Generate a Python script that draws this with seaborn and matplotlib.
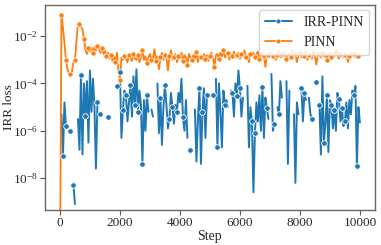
import numpy as np
import pandas as pd
import matplotlib
matplotlib.use("Agg")
import matplotlib.pyplot as plt
from matplotlib.lines import Line2D
import seaborn as sns

# training steps (logged every 50)
steps = list(range(0, 10001, 50))

# log10 of the IRR loss, nan = gap in the curve
irr_pinn_log = [
    np.nan, -5.3, -7.06, -4.8, -5.8, np.nan, np.nan, -6.0, np.nan, -8.3,
    -9.1, np.nan, -5.5, -6.8, -3.66, -7.0, -4.0, -5.36, -3.9, -6.5,
    -3.45, -5.2, -3.8, -5.0, -7.6, -4.8, np.nan, -5.3, np.nan, np.nan,
    np.nan, np.nan, -5.4, np.nan, np.nan, np.nan, np.nan, np.nan, -4.1, np.nan,
    -3.5, -6.3, -5.1, -4.3, -4.5, -5.6, -4.8, -4.05, -5.4, -3.7,
    -4.9, -3.4, -5.2, -4.3, -4.9, -7.4, -4.7, -6.0, -4.5, -5.2,
    np.nan, -5.1, -5.4, np.nan, np.nan, -4.0, -6.1, -4.6, -6.6, -5.0,
    -4.05, -4.9, -5.9, -5.5, -4.4, -5.0, -5.7, -4.9, -5.2, -4.4,
    -4.8, -3.8, -5.4, -6.0, -4.7, -6.3, np.nan, -6.8, np.nan, np.nan,
    -5.1, -7.3, -5.5, -4.2, -7.4, -5.2, -4.2, -6.3, -4.5, np.nan,
    np.nan, np.nan, -4.5, np.nan, -3.8, -6.7, -4.0, -5.2, -6.7, -4.3,
    -4.9, -4.7, -5.0, np.nan, -4.3, -4.4, -5.4, -4.0, -4.55, -3.45,
    -4.2, -5.4, -4.6, np.nan, np.nan, -4.1, -6.7, -5.0, -5.6, -8.6,
    -6.1, -4.8, -5.6, -4.5, -6.0, -4.15, -6.3, -4.6, -5.05, -5.5,
    np.nan, -3.6, -6.0, -5.7, np.nan, -5.0, -5.3, -3.9, -4.6, np.nan,
    np.nan, -3.9, -7.4, -4.3, np.nan, np.nan, -5.3, -8.2, -4.8, -5.3,
    np.nan, -4.2, -5.6, -4.4, -4.7, np.nan, -4.6, -5.3, -5.5, np.nan,
    np.nan, -3.95, np.nan, -4.9, -7.0, -3.7, -6.5, -5.7, -4.5, -6.9,
    -4.7, -4.9, -5.9, -5.1, -6.0, -4.4, -4.65, -5.6, -5.05, -5.8,
    -5.6, -4.8, -5.9, -4.7, -5.3, -4.3, -4.5, -4.1, -7.5, -5.0,
    -5.65,
]

pinn_log = [
    -12.0, -1.1, -1.65, -2.3, -3.0, -3.4, -3.6, -3.6, -3.5, -3.1,
    -3.0, -2.2, -1.45, -1.5, -1.6, -1.7, -2.1, -2.6, -2.75, -2.5,
    -2.65, -2.5, -2.7, -2.45, -2.6, -2.4, -2.55, -2.7, -2.5, -2.75,
    -2.6, -2.85, -2.7, -2.95, -2.8, -3.05, -2.85, -3.1, -2.7, -3.5,
    -3.85, -2.9, -3.0, -2.85, -2.95, -3.1, -2.8, -2.9, -3.05, -2.75,
    -2.95, -3.0, -2.8, -3.1, -2.9, -2.6, -3.0, -2.85, -3.15, -2.9,
    -2.75, -3.0, -2.95, -2.55, -3.05, -2.85, -3.4, -2.9, -2.7, -3.0,
    -2.8, -2.95, -3.45, -2.85, -2.6, -3.0, -2.9, -2.75, -3.1, -2.85,
    -2.95, -2.7, -3.05, -2.8, -2.9, -3.2, -2.75, -2.9, -3.0, -2.8,
    -2.95, -2.65, -3.1, -2.85, -2.9, -3.0, -2.75, -2.95, -2.8, -3.05,
    -2.85, -2.7, -2.9, -3.3, -2.8, -2.75, -2.95, -2.7, -2.85, -2.6,
    -2.9, -2.8, -2.7, -3.0, -2.75, -2.85, -2.65, -2.9, -2.8, -2.7,
    -2.95, -2.75, -2.85, -2.6, -2.9, -2.8, -3.1, -2.75, -2.85, -2.7,
    -2.9, -2.75, -2.65, -2.95, -2.8, -2.7, -2.85, -3.3, -2.75, -2.8,
    -2.9, -2.7, -2.85, -2.75, -3.0, -2.8, -2.65, -2.9, -2.75, -2.85,
    -2.7, -2.95, -2.8, -2.75, -2.9, -2.6, -2.85, -2.75, -3.1, -2.8,
    -2.7, -2.9, -2.75, -2.85, -2.65, -3.0, -2.8, -2.75, -2.95, -2.7,
    -2.85, -3.2, -2.75, -2.8, -2.9, -2.7, -2.85, -2.75, -3.0, -2.8,
    -2.7, -2.9, -2.75, -2.85, -2.65, -2.8, -2.95, -2.75, -2.7, -2.9,
    -2.8, -2.75, -3.1, -2.85, -2.7, -2.8, -2.75, -2.9, -2.8, -2.85,
    -2.9,
]

# which logged points carry a marker
irr_marked = [2, 4, 7, 9, 14, 17, 25, 27, 32, 38, 40, 42, 44, 47, 50, 52, 55, 58,
              67, 70, 73, 75, 78, 82, 87, 93, 95, 98, 102, 105, 110, 115, 118, 120,
              128, 130, 135, 138, 143, 146, 161, 163, 168, 171, 173, 176, 178, 181,
              183, 186, 188, 190, 196, 198]
pinn_marked = list(range(1, 201, 3))

blue = "#1f77b4"
orange = "#ff7f0e"

sns.set_style("ticks")
plt.rcParams["font.family"] = ["Liberation Serif", "DejaVu Serif"]
plt.rcParams["mathtext.fontset"] = "stix"


def make_df(vals):
    d = pd.DataFrame({"step": steps, "loss": 10.0 ** np.array(vals)})
    # break the curve wherever a value is missing
    d["seg"] = d["loss"].isna().cumsum()
    return d


irr = make_df(irr_pinn_log)
pinn = make_df(pinn_log)

fig, ax = plt.subplots(figsize=(3.81, 2.45), dpi=100)
fig.subplots_adjust(left=0.118, right=0.984, top=0.98, bottom=0.143)

sns.lineplot(data=irr.dropna(), x="step", y="loss", units="seg", estimator=None,
             color=blue, lw=1.4, legend=False, ax=ax)
sns.lineplot(data=pinn, x="step", y="loss", estimator=None,
             color=orange, lw=1.3, legend=False, ax=ax)
sns.scatterplot(data=irr.iloc[irr_marked], x="step", y="loss", color=blue,
                s=16, edgecolor="white", linewidth=0.6, zorder=3, legend=False, ax=ax)
sns.scatterplot(data=pinn.iloc[pinn_marked], x="step", y="loss", color=orange,
                s=14, edgecolor="white", linewidth=0.5, zorder=3, legend=False, ax=ax)

ax.set_yscale("log")
ax.set_ylim(4.5e-10, 0.21)
ax.set_xlim(-500, 10500)
ax.set_yticks([1e-8, 1e-6, 1e-4, 1e-2])
ax.minorticks_off()
ax.set_xticks([0, 2000, 4000, 6000, 8000, 10000])
ax.set_xlabel("Step", fontsize=10, labelpad=1)
ax.set_ylabel("IRR loss", fontsize=9.5)
ax.yaxis.set_label_coords(-0.092, 0.5)
ax.tick_params(labelsize=9.5, length=3.5, width=0.8, color="0.35", pad=1.5)
for sp in ax.spines.values():
    sp.set_color("0.4")
    sp.set_linewidth(1.0)

handles = [
    Line2D([], [], color=blue, lw=1.4, marker="o", ms=3.5, mec="white", mew=0.5),
    Line2D([], [], color=orange, lw=1.3, marker="o", ms=3.5, mec="white", mew=0.5),
]
ax.legend(handles, ["IRR-PINN", "PINN"], loc="upper right", fontsize=10,
          frameon=True, borderaxespad=0.4, handlelength=2.0)

fig.savefig("out.png", dpi=100)
